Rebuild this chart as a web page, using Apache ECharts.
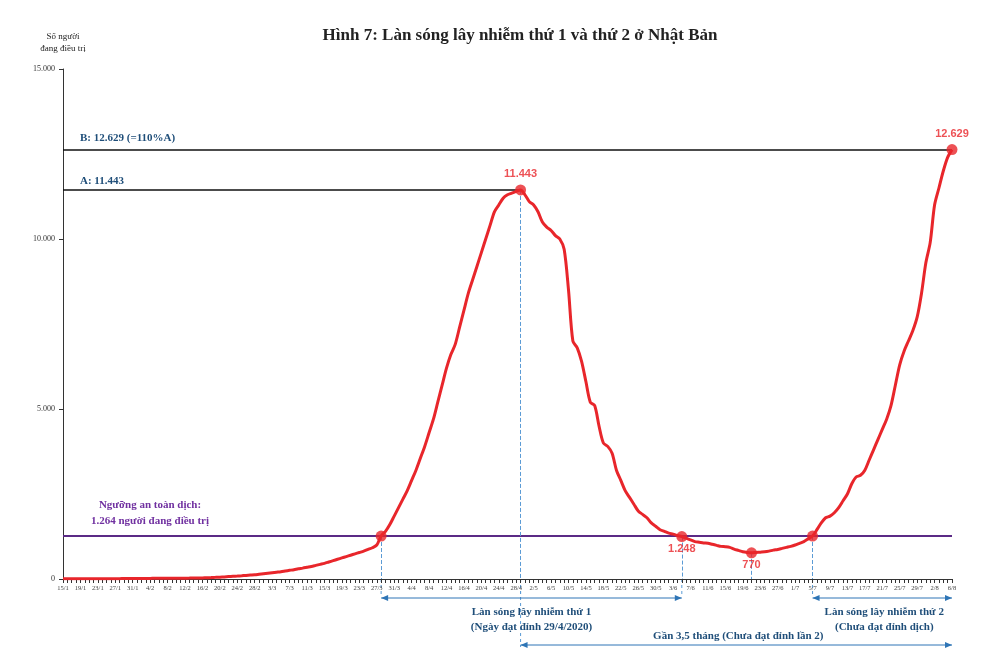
<!DOCTYPE html>
<html><head><meta charset="utf-8">
<script src="https://cdn.jsdelivr.net/npm/echarts@6/dist/echarts.min.js"></script>
<style>html,body{margin:0;padding:0;background:#fff}#c{width:1000px;height:659px}</style>
</head><body><div id="c"></div>
<script>
const monthDays = [[1,15,31],[2,1,29],[3,1,31],[4,1,30],[5,1,31],[6,1,30],[7,1,31],[8,1,6]];
const dates = [];
monthDays.forEach(([m,a,b])=>{for(let d=a;d<=b;d++)dates.push(d+'/'+m);});
const jan = [5,5,5,5,6,6,6,7,7,8,8,9,10,11,12,13,14];
const feb = [15,16,17,18,19,20,20,21,22,23,24,25,26,28,30,33,37,42,48,55,62,70,78,86,95,105,115,125,140];
const mar = [155,170,185,200,215,235,255,275,300,320,345,370,400,430,460,500,540,580,620,660,700,740,780,820,870,920,1000,1264,1400,1600,1850];
const apr = [2100,2350,2600,2900,3200,3550,3900,4300,4700,5200,5700,6200,6600,6900,7400,7900,8400,8800,9200,9600,10000,10400,10800,11000,11200,11300,11350,11400,11443,11300];
const may = [11100,11000,10800,10500,10350,10250,10100,10000,9700,8500,7000,6800,6400,5800,5200,5100,4500,4000,3900,3700,3200,2900,2600,2400,2200,2000,1900,1800,1650,1550,1450];
const jun = [1400,1350,1320,1280,1248,1200,1150,1100,1080,1060,1050,1020,990,960,950,930,880,840,800,780,770,780,790,800,820,850,870,900,930,960];
const jul = [1000,1050,1100,1180,1264,1450,1650,1800,1850,1950,2100,2300,2500,2800,3000,3050,3200,3500,3800,4100,4400,4700,5100,5700,6300,6700,7000,7300,7700,8400,9300];
const aug = [9900,11000,11500,12000,12400,12629];
const values = [].concat(jan,feb,mar,apr,may,jun,jul,aug);
const keyPoints = [['28/3',1264,''],['29/4',11443,'11.443'],['5/6',1248,'1.248'],['21/6',770,'770'],['5/7',1264,''],['6/8',12629,'12.629']];
const threshold = 1264, levelA = 11443, levelB = 12629;
const fmt = v => String(v).replace(/\B(?=(\d{3})+(?!\d))/g,'.');
const serif = 'Liberation Serif';
const chart = echarts.init(document.getElementById('c'));
chart.setOption({
  animation:false,
  textStyle:{fontFamily:serif},
  title:{text:'Hình 7: Làn sóng lây nhiễm thứ 1 và thứ 2 ở Nhật Bản',left:515,textAlign:'center',top:22,
    textStyle:{fontFamily:serif,fontSize:17,fontWeight:'bold',color:'#222'}},
  grid:{left:63,right:48,top:69,bottom:80},
  xAxis:{type:'category',data:dates,boundaryGap:false,
    axisLine:{lineStyle:{color:'#333'}},
    axisTick:{interval:0,length:4,lineStyle:{color:'#333'}},
    axisLabel:{interval:3,fontSize:6.5,color:'#444',margin:6}},
  yAxis:{type:'value',min:0,max:15000,interval:5000,name:'Số người\nđang điều trị',
    nameLocation:'end',nameGap:14,nameTextStyle:{fontSize:9,color:'#222',align:'center',lineHeight:12},
    axisLine:{show:true,lineStyle:{color:'#333'}},axisTick:{show:true,length:4},splitLine:{show:false},
    axisLabel:{fontSize:8,color:'#333',formatter:v=>fmt(v)}},
  series:[
    {type:'line',data:values,smooth:0.3,symbol:'none',lineStyle:{color:'#e8262b',width:3},z:5,
      markLine:{symbol:'none',silent:true,label:{show:false},data:[
        [{coord:[dates[0],levelA],lineStyle:{color:'#111',width:1.5,type:'solid'}},{coord:['29/4',levelA]}],
        [{coord:[dates[0],levelB],lineStyle:{color:'#111',width:1.5,type:'solid'}},{coord:[dates[dates.length-1],levelB]}],
        [{coord:[dates[0],threshold],lineStyle:{color:'#5b2a86',width:2,type:'solid'}},{coord:[dates[dates.length-1],threshold]}],
        ...keyPoints.slice(0,5).map(p=>[{coord:[p[0],p[1]],lineStyle:{color:'#5b9bd5',width:1,type:'dashed'}},{coord:[p[0],0]}])
      ]}},
    {type:'scatter',data:keyPoints.map(p=>[p[0],p[1]]),symbolSize:11,itemStyle:{color:'#e8262b'},z:6,
      label:{show:true,fontWeight:'bold',fontSize:11,color:'#e8262b',fontFamily:'Liberation Sans',
        formatter:p=>keyPoints[p.dataIndex][2],
        position:'top'},
      labelLayout:p=>{const k=keyPoints[p.dataIndex];if(k[0]==='5/6'||k[0]==='21/6')return{dy:28};return{};}}
  ]
});
const px = d => chart.convertToPixel({xAxisIndex:0},d);
const py = v => chart.convertToPixel({yAxisIndex:0},v);
const blue='#2e75b6', purple='#7030a0';
function arrow(x1,x2,y){return [
  {type:'line',shape:{x1,y1:y,x2,y2:y},style:{stroke:blue,lineWidth:1}},
  {type:'polygon',shape:{points:[[x1,y],[x1+7,y-3],[x1+7,y+3]]},style:{fill:blue}},
  {type:'polygon',shape:{points:[[x2,y],[x2-7,y-3],[x2-7,y+3]]},style:{fill:blue}}];}
const x1=px('28/3'),x2=px('29/4'),x3=px('5/6'),x4=px('5/7'),x5=px('6/8');
const tStyle=(t,x,y,c,al)=>({type:'text',x,y,style:{text:t,fill:c,font:'bold 11px "Liberation Serif"',textAlign:al||'center',textVerticalAlign:'middle'}});
const g=[
  ...[x1,x2,x3,x4].map(x=>({type:'line',shape:{x1:x,y1:py(0),x2:x,y2:py(0)+18},style:{stroke:'#5b9bd5',lineDash:[3,3],lineWidth:1}})),
  {type:'line',shape:{x1:x2,y1:py(0),x2:x2,y2:py(0)+68},style:{stroke:'#5b9bd5',lineDash:[3,3],lineWidth:1}},
  ...arrow(x1,x3,598),...arrow(x4,x5,598),...arrow(x2,x5,645),
  tStyle('Làn sóng lây nhiễm thứ 1',(x1+x3)/2,612,'#1f4e79'),
  tStyle('(Ngày đạt đỉnh 29/4/2020)',(x1+x3)/2,627,'#1f4e79'),
  tStyle('Làn sóng lây nhiễm thứ 2',(x4+x5)/2+2,612,'#1f4e79'),
  tStyle('(Chưa đạt đỉnh dịch)',(x4+x5)/2+2,627,'#1f4e79'),
  tStyle('Gần 3,5 tháng (Chưa đạt đỉnh lần 2)',(x2+x5)/2+2,636,'#1f4e79'),
  tStyle('A: '+fmt(levelA),80,py(levelA)-9,'#1f4e79','left'),
  tStyle('B: '+fmt(levelB)+' (=110%A)',80,py(levelB)-11,'#1f4e79','left'),
  tStyle('Ngưỡng an toàn dịch:',150,py(threshold)-31,purple),
  tStyle(fmt(threshold)+' người đang điều trị',150,py(threshold)-15,purple)
];
chart.setOption({graphic:g});
</script></body></html>
